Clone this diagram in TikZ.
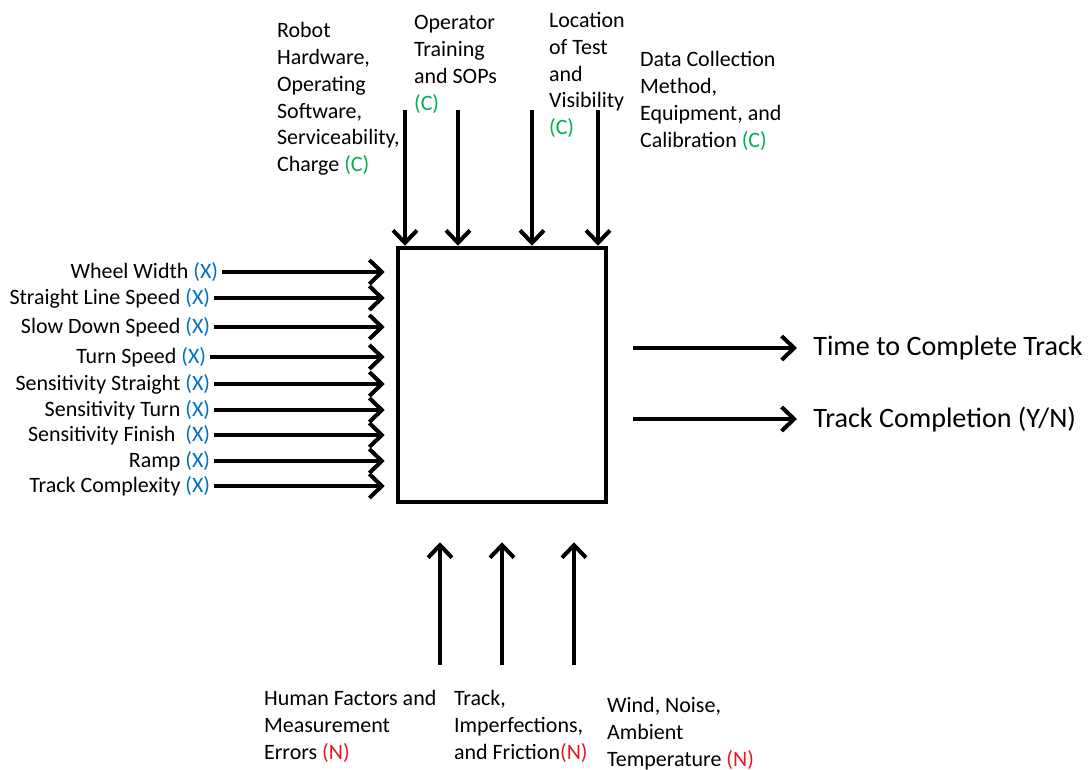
\documentclass[tikz,border=0pt]{standalone}
\usepackage{fontspec}
\setmainfont{Carlito}
\usetikzlibrary{arrows.meta,positioning}
\definecolor{FacGreen}{HTML}{00B050}
\definecolor{FacBlue}{HTML}{0070C0}
\definecolor{FacRed}{HTML}{E8161E}
\newcommand{\ctrlC}{\textcolor{FacGreen}{(C)}}
\newcommand{\factX}{\textcolor{FacBlue}{(X)}}
\newcommand{\noiseN}{\textcolor{FacRed}{(N)}}

\begin{document}
\begin{tikzpicture}[
          x=0.02cm,y=-0.02cm,
          >={Straight Barb[length=2.5mm,width=4.8mm]},
          input/.style={->,line width=2.3pt},
          factor/.style={font=\fontsize{12.5}{15.3}\selectfont,align=left,inner sep=1pt},
          xfactor/.style={font=\fontsize{12.5}{15.3}\selectfont,anchor=east,inner sep=2pt},
          result/.style={font=\fontsize{16}{19}\selectfont,anchor=west,inner sep=0.32cm}
        ]
        \path[use as bounding box] (0,0) rectangle (1091,769);

        % the process
        \node[draw,line width=2.6pt,minimum width=4.16cm,minimum height=5.08cm,inner sep=0pt]
          (box) at (502,375) {};

        % controlled factors
        \node[factor,anchor=north west] (robot) at (275,20)
          {Robot\\Hardware,\\Operating\\Software,\\Serviceability,\\Charge \ctrlC};
        \node[factor,anchor=north west] (oper) at (412,13)
          {Operator\\Training\\and SOPs\\\ctrlC};
        \node[factor,anchor=north west] (loc) at (547,10)
          {Location\\of Test\\and\\Visibility\\\ctrlC};
        \node[factor,anchor=north west] (data) at (638,49)
          {Data Collection\\Method,\\Equipment, and\\Calibration \ctrlC};
        \coordinate (c1) at (405,110);
        \coordinate (c2) at (458,110);
        \coordinate (c3) at (532,110);
        \coordinate (c4) at (598,110);
        \draw[input] (c1) -- (c1 |- box.north);
        \draw[input] (c2) -- (c2 |- box.north);
        \draw[input] (c3) -- (c3 |- box.north);
        \draw[input] (c4) -- (c4 |- box.north);

        % experimental factors
        \node[xfactor] (wheel) at (222,272) {Wheel Width \factX};
        \node[xfactor] (line) at (214,298) {Straight Line Speed \factX};
        \node[xfactor] (slow) at (214,327) {Slow Down Speed \factX};
        \node[xfactor] (turn) at (210,357) {Turn Speed \factX};
        \node[xfactor] (sstr) at (214,384) {Sensitivity Straight \factX};
        \node[xfactor] (sturn) at (214,410) {Sensitivity Turn \factX};
        \node[xfactor] (sfin) at (214,435) {Sensitivity Finish\ \ \factX};
        \node[xfactor] (ramp) at (214,461) {Ramp \factX};
        \node[xfactor] (cplx) at (214,486) {Track Complexity \factX};
        \draw[input,shorten >=0.22cm] (wheel) -- (wheel -| box.west);
        \draw[input,shorten >=0.22cm] (line) -- (line -| box.west);
        \draw[input,shorten >=0.22cm] (slow) -- (slow -| box.west);
        \draw[input,shorten >=0.22cm] (turn) -- (turn -| box.west);
        \draw[input,shorten >=0.22cm] (sstr) -- (sstr -| box.west);
        \draw[input,shorten >=0.22cm] (sturn) -- (sturn -| box.west);
        \draw[input,shorten >=0.22cm] (sfin) -- (sfin -| box.west);
        \draw[input,shorten >=0.22cm] (ramp) -- (ramp -| box.west);
        \draw[input,shorten >=0.22cm] (cplx) -- (cplx -| box.west);

        % noise factors
        \coordinate (n1) at (440,665);
        \coordinate (n2) at (502,665);
        \coordinate (n3) at (574,665);
        \draw[input,shorten >=0.76cm] (n1) -- (n1 |- box.south);
        \draw[input,shorten >=0.76cm] (n2) -- (n2 |- box.south);
        \draw[input,shorten >=0.76cm] (n3) -- (n3 |- box.south);
        \node[factor,anchor=north west] (human) at (262,688)
          {Human Factors and\\Measurement\\Errors \noiseN};
        \node[factor,anchor=north west] (track) at (452,688)
          {Track,\\Imperfections,\\and Friction\noiseN};
        \node[factor,anchor=north west] (wind) at (605,695)
          {Wind, Noise,\\Ambient\\Temperature \noiseN};

        % responses
        \coordinate (o1) at (633,348);
        \coordinate (o2) at (633,419);
        \node[result] (time) at (797,348) {Time to Complete Track};
        \node[result] (done) at (797,419) {Track Completion (Y/N)};
        \draw[input] (o1) -- (time);
        \draw[input] (o2) -- (done);
      \end{tikzpicture}
\end{document}
